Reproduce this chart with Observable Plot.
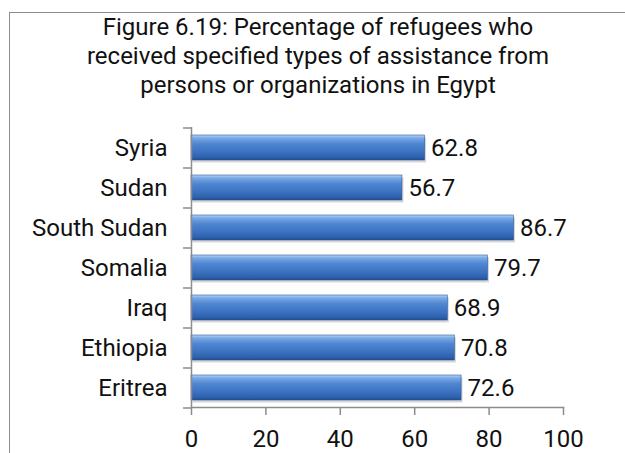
<!DOCTYPE html>
<html>
<head>
<meta charset="utf-8">
<script src="https://cdn.jsdelivr.net/npm/d3@7"></script>
<script src="https://cdn.jsdelivr.net/npm/@observablehq/plot@0.6"></script>
<style>
  body { margin: 0; background: #fff; }
  #wrap { position: relative; width: 625px; height: 453px; overflow: hidden; background: #fff;
          font-family: Roboto, "Noto Sans", sans-serif; }
  #box { position: absolute; left: 9px; top: 12px; width: 700px; height: 500px;
         border-top: 1.5px solid #8c8c8c; border-left: 1.5px solid #8c8c8c; }
  #title { position: absolute; left: 0; top: 0; width: 636px; height: 100px; text-align: center;
           font-size: 24px; line-height: 29px; color: #111; padding-top: 13px; box-sizing: border-box; }
  #chart { position: absolute; left: 0; top: 100px; }
</style>
</head>
<body>
<div id="wrap">
  <div id="box"></div>
  <div id="title">Figure 6.19: Percentage of refugees who<br>received specified types of assistance from<br>persons or organizations in Egypt</div>
  <div id="chart"></div>
</div>
<script>
const countries = ["Syria", "Sudan", "South Sudan", "Somalia", "Iraq", "Ethiopia", "Eritrea"];
const values = [62.8, 56.7, 86.7, 79.7, 68.9, 70.8, 72.6];
const xTicks = [0, 20, 40, 60, 80, 100];

const data = countries.map((c, i) => ({country: c, value: values[i]}));

const defsMark = () => {
  const svg = d3.create("svg:g");
  const defs = svg.append("defs");
  const g = defs.append("linearGradient").attr("id", "barGrad")
    .attr("x1", 0).attr("y1", 0).attr("x2", 0).attr("y2", 1);
  [["0%", "#b9d3f3"], ["12%", "#7aa9e6"], ["35%", "#4f86d2"], ["70%", "#3a70bf"], ["92%", "#2b5ea8"], ["100%", "#1f4a88"]]
    .forEach(([o, c]) => g.append("stop").attr("offset", o).attr("stop-color", c));
  return svg.node();
};

const chart = Plot.plot({
  width: 625,
  height: 353,
  marginLeft: 191,
  marginRight: 62,
  marginTop: 27,
  marginBottom: 46,
  style: {fontFamily: "Roboto, 'Noto Sans', sans-serif", fontSize: "24px", color: "#111", background: "transparent", overflow: "visible"},
  x: {domain: [0, 100], ticks: xTicks, label: null},
  y: {domain: countries, paddingInner: 0.375, paddingOuter: 0.1875, label: null},
  marks: [
    defsMark,
    Plot.barX(data, {x: "value", y: "country", fill: "#8a8a8a", fillOpacity: 0.35, dx: 1.5, dy: 2.5}),
    Plot.barX(data, {x: "value", y: "country", fill: "url(#barGrad)", stroke: "#2a5a9e", strokeWidth: 0.6}),
    Plot.text(data, {x: "value", y: "country", text: d => d.value.toFixed(1), textAnchor: "start", dx: 6, fill: "#111", fontSize: 24}),
    Plot.ruleX([0], {stroke: "#8c8c8c", strokeWidth: 1.5}),
    Plot.ruleY(countries, {y: d => d, x1: 0, x2: 0, insetRight: 8, dy: -20, stroke: "#8c8c8c", strokeWidth: 1.5}),
    Plot.ruleY(countries.slice(-1), {y: d => d, x1: 0, x2: 0, insetRight: 8, dy: 20, stroke: "#8c8c8c", strokeWidth: 1.5}),
    Plot.axisY({tickSize: 0, tickPadding: 24, fontSize: 24, fill: "#111"}),
    Plot.axisX({ticks: xTicks, tickSize: 8, tickPadding: 14, stroke: "#8c8c8c", strokeWidth: 1.5, fontSize: 24, fill: "#111", strokeOpacity: 1}),
    Plot.frame({anchor: "bottom", stroke: "#8c8c8c", strokeWidth: 1.5})
  ]
});
document.getElementById("chart").appendChild(chart);
</script>
</body>
</html>
